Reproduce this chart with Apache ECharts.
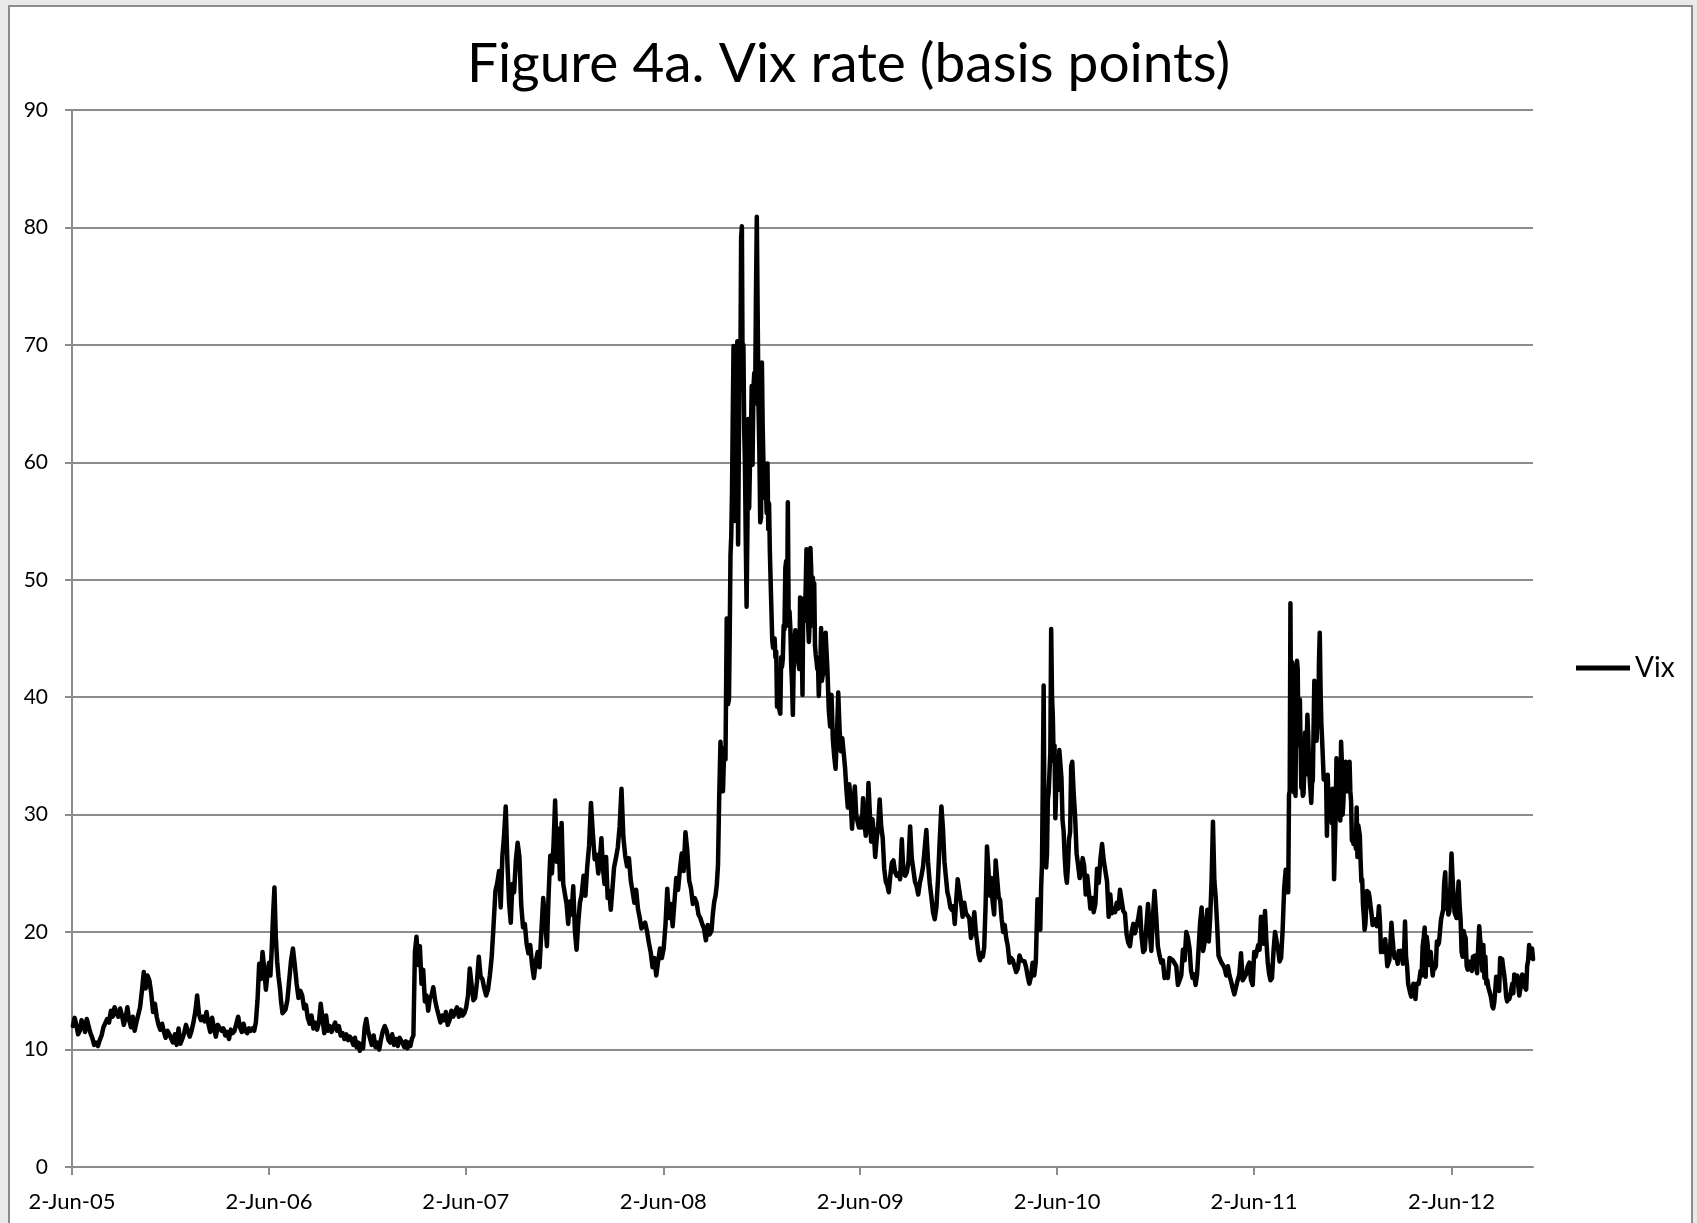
<!DOCTYPE html>
<html>
<head>
<meta charset="utf-8">
<script src="https://cdn.jsdelivr.net/npm/echarts@6/dist/echarts.min.js"></script>
<style>
  html, body { margin: 0; padding: 0; background: #e9e9e9; }
  #main { width: 1697px; height: 1223px; }
</style>
</head>
<body>
<div id="main"></div>
<script>
// Vix closes, one list per month (2005 starts at June, 2012 ends at October)
var vix2005 = [
  [12.0, 12.7, 12.1, 11.3, 11.6, 12.5, 12.2, 11.5, 12.6],
  [12.0, 11.4, 11.0, 10.4, 10.6, 10.3, 10.8, 11.2, 11.9],
  [12.0, 12.6, 12.3, 13.3, 12.8, 13.6, 13.1, 12.8, 13.5],
  [12.9, 12.1, 12.7, 13.6, 12.5, 11.9, 12.8, 11.6, 12.3],
  [12.2, 13.6, 15.0, 16.6, 15.2, 16.3, 15.9, 14.8, 13.2],
  [13.9, 12.8, 12.1, 11.7, 12.2, 11.5, 11.0, 11.6, 11.3],
  [11.2, 10.6, 11.3, 10.4, 11.8, 10.5, 10.9, 11.4, 12.1]
]
var vix2006 = [
  [12.0, 11.1, 11.6, 12.3, 13.2, 14.6, 13.0, 12.5, 12.8],
  [12.4, 13.2, 12.2, 11.5, 12.7, 11.8, 11.1, 12.1],
  [12.2, 11.6, 11.8, 11.2, 11.5, 10.9, 11.7, 11.4, 11.6],
  [11.7, 12.8, 11.9, 11.5, 12.2, 11.6, 11.4, 11.8, 11.6],
  [11.8, 11.6, 12.3, 14.2, 17.3, 16.0, 18.3, 16.9, 15.1, 16.5],
  [17.4, 16.3, 18.6, 21.5, 23.8, 19.6, 17.5, 16.2, 15.3, 14.0, 13.1, 13.0],
  [13.4, 14.2, 15.9, 17.6, 18.6, 17.2, 15.6, 14.4, 15.0],
  [14.6, 13.5, 13.8, 12.7, 12.2, 12.9, 11.8, 12.3, 11.7],
  [12.3, 13.9, 12.6, 11.4, 12.9, 11.6, 12.0, 11.5, 11.9],
  [12.3, 11.6, 12.0, 11.2, 11.4, 10.9, 11.3, 10.8, 11.1],
  [10.8, 10.4, 11.0, 10.2, 10.6, 9.9, 10.5, 10.1, 11.9, 12.6],
  [11.6, 11.0, 10.4, 11.2, 10.2, 10.6, 10.0, 10.9, 11.6]
]
var vix2007 = [
  [12.0, 11.6, 10.8, 10.6, 11.3, 10.4, 10.9, 10.3, 11.0],
  [11.1, 10.5, 10.2, 10.7, 10.1, 10.6, 10.3, 10.9, 11.2, 18.3],
  [19.6, 17.2, 18.8, 15.6, 16.8, 14.1, 14.6, 13.3, 14.4, 14.6],
  [15.3, 14.2, 13.5, 13.6, 12.3, 12.9, 12.5, 13.2, 12.1],
  [12.5, 13.3, 12.8, 12.9, 13.6, 12.8, 13.4, 12.9, 13.1],
  [13.6, 14.6, 16.9, 15.5, 14.2, 14.4, 15.8, 17.9, 16.2],
  [16.0, 15.2, 14.6, 15.1, 16.3, 17.9, 20.6, 23.5, 24.2],
  [25.2, 22.1, 26.5, 28.2, 30.7, 25.9, 22.5, 20.8, 24.1, 23.4],
  [26.1, 27.6, 26.4, 22.3, 20.4, 20.7, 19.0, 18.2, 18.9],
  [17.2, 16.1, 17.5, 18.3, 17.0, 20.0, 22.9, 21.0, 18.8],
  [23.3, 26.5, 25.0, 27.4, 31.2, 26.0, 28.8, 24.5, 29.3, 24.1],
  [24.0, 22.4, 20.7, 22.6, 21.5, 23.9, 20.1, 18.5, 20.8, 22.5]
]
var vix2008 = [
  [23.2, 24.8, 23.1, 25.6, 27.4, 31.0, 28.4, 26.2, 26.6],
  [25.0, 26.2, 28.0, 25.4, 24.1, 26.4, 22.9, 23.5, 21.9, 23.6],
  [25.5, 26.3, 27.2, 29.0, 32.2, 28.1, 26.5, 25.6, 26.3],
  [24.4, 23.5, 22.5, 23.6, 22.0, 21.2, 20.3, 20.6, 20.8],
  [20.1, 19.1, 18.3, 17.0, 17.8, 16.3, 17.5, 18.6, 17.8],
  [18.6, 20.6, 23.7, 21.2, 22.4, 20.5, 22.6, 24.6, 23.6],
  [25.3, 26.7, 25.2, 28.5, 26.9, 24.4, 23.7, 22.4, 22.9],
  [22.5, 21.5, 21.2, 20.7, 20.3, 19.3, 20.6, 19.8, 20.1],
  [21.7, 22.6, 23.1, 24.0, 25.7, 31.7, 36.2, 33.1, 32.0, 35.7, 34.7, 46.7, 39.4],
  [39.8, 45.3, 52.1, 53.7, 57.5, 63.9, 69.9, 55.0, 55.1, 69.3, 67.6, 70.3, 53.0, 53.1, 69.7, 67.8, 79.1, 80.1, 67.0, 70.0, 62.9, 59.9],
  [53.7, 47.7, 54.6, 63.7, 56.1, 60.0, 61.9, 66.5, 59.8, 66.3, 67.6, 65.0, 74.3, 80.9, 72.7, 64.7, 60.9, 54.9, 55.3],
  [68.5, 63.0, 59.9, 57.0, 58.9, 57.9, 55.7, 59.9, 54.3, 56.5, 52.4, 49.8, 47.3, 44.9, 44.2, 44.6, 45.0, 43.4, 43.9, 39.2, 40.0]
]
var vix2009 = [
  [39.2, 39.1, 38.6, 43.4, 42.6, 43.3, 46.1, 45.8, 51.0, 51.6, 46.1, 56.6, 46.4, 47.3, 45.9, 42.8, 41.2, 38.5, 42.6, 44.8],
  [45.7, 43.1, 43.6, 43.4, 42.8, 42.4, 48.5, 45.0, 44.7, 40.2, 48.4, 47.1, 46.5, 49.3, 52.6, 46.7, 46.4, 44.7, 46.4],
  [52.7, 50.9, 46.1, 50.2, 49.3, 49.7, 44.4, 43.6, 43.1, 42.4, 42.7, 40.1, 42.0, 42.4, 45.9, 41.4, 41.8, 43.5, 42.0, 42.9, 45.5, 44.1],
  [42.3, 38.9, 37.5, 40.2, 36.4, 35.0, 33.9, 36.6, 40.4, 37.2, 35.4, 36.5],
  [35.3, 34.0, 32.1, 30.6, 32.6, 31.2, 28.8, 30.8, 32.4, 30.0, 29.4, 28.9],
  [29.7, 28.9, 31.4, 29.4, 28.2, 28.8, 32.7, 30.2, 27.7, 29.6, 28.4, 26.4],
  [27.9, 29.0, 31.3, 29.0, 28.0, 25.4, 24.3, 24.0, 23.4, 24.8, 25.9],
  [26.1, 25.1, 24.8, 25.0, 24.5, 27.9, 25.0, 24.8, 25.1, 26.0],
  [29.0, 26.3, 25.3, 24.3, 23.9, 23.2, 24.2, 24.8, 25.6, 25.6],
  [28.7, 26.0, 24.2, 23.0, 21.7, 21.1, 22.1, 24.6, 27.8, 30.7],
  [28.8, 26.0, 24.7, 23.4, 22.9, 22.1, 21.9, 22.2, 20.7, 22.7, 24.5],
  [24.5, 22.6, 21.3, 22.5, 21.6, 21.5, 21.2, 19.5, 20.0, 21.7]
]
var vix2010 = [
  [20.0, 19.1, 18.1, 17.6, 18.2, 17.9, 18.7, 22.3, 27.3, 25.4, 23.1, 24.6],
  [22.6, 21.5, 26.1, 26.1, 23.0, 22.7, 21.1, 20.0, 20.6, 19.5],
  [18.8, 17.4, 17.8, 17.6, 17.6, 16.6, 16.9, 18.0, 17.6, 17.6],
  [17.5, 17.0, 16.2, 15.6, 16.2, 17.4, 16.3, 17.5, 22.8, 22.1],
  [20.2, 23.8, 25.7, 32.8, 41.0, 28.8, 28.9, 25.5, 26.7, 31.2, 31.9, 33.6, 35.3, 45.8, 40.1, 38.3, 34.6, 35.9, 29.7, 32.1],
  [34.5, 32.1, 35.5, 34.3, 33.1, 29.5, 28.6, 26.4, 24.9, 24.2, 25.6, 27.9, 28.5, 34.1, 34.5],
  [32.0, 29.9, 26.7, 25.7, 24.6, 25.1, 26.3, 25.6, 23.2, 24.8, 23.5],
  [22.0, 22.9, 21.7, 22.4, 25.4, 24.2, 26.2, 27.5, 26.1, 26.1],
  [24.3, 21.3, 23.2, 21.6, 22.0, 21.7, 22.5, 22.0, 23.6, 23.7],
  [21.8, 21.6, 19.8, 19.1, 18.8, 20.0, 20.7, 19.9, 19.9, 21.2],
  [22.1, 19.6, 18.3, 18.5, 20.6, 22.4, 20.2, 18.4, 21.3, 23.5],
  [21.4, 18.8, 18.0, 17.4, 17.6, 16.1, 16.5, 16.1, 17.8, 17.8]
]
var vix2011 = [
  [17.6, 17.6, 17.1, 15.5, 15.9, 16.3, 18.5, 17.6, 20.0, 19.5],
  [18.6, 16.7, 16.1, 16.4, 15.5, 16.4, 16.4, 20.8, 22.1, 18.4],
  [19.1, 20.7, 21.9, 19.2, 21.2, 24.3, 29.4, 24.4, 22.9, 20.6, 18.0, 17.7],
  [17.4, 17.2, 16.9, 16.3, 17.1, 16.3, 15.8, 15.2, 14.7, 14.8],
  [15.9, 16.4, 18.2, 15.9, 16.0, 16.4, 17.1, 17.4, 15.9, 15.5],
  [18.3, 17.9, 17.9, 18.9, 18.5, 21.3, 19.8, 19.0, 21.8, 19.3, 17.5, 16.5],
  [15.9, 16.1, 18.4, 20.0, 19.9, 18.5, 17.5, 17.8, 20.2, 23.7, 25.3],
  [23.4, 24.8, 23.4, 31.7, 32.0, 48.0, 35.1, 43.0, 39.0, 36.4, 31.9, 32.9, 31.6, 42.7, 43.1, 42.4, 36.3, 35.9, 39.8, 35.6, 32.3, 32.9, 31.6],
  [31.8, 33.9, 37.0, 33.4, 33.5, 38.5, 36.9, 34.6, 33.0, 32.0, 31.0, 32.7, 32.9, 37.3, 41.4, 39.5, 37.6, 36.3, 38.8, 37.5, 43.0],
  [45.5, 40.8, 37.8, 36.3, 36.2, 33.0, 32.9, 32.9, 32.9, 28.2, 33.4, 31.3, 31.5, 31.9, 31.3, 29.3, 32.2, 29.9, 24.5, 24.5, 30.0],
  [34.8, 32.7, 30.5, 30.2, 29.9, 29.5, 36.2, 34.5, 30.0, 31.1, 32.8, 33.5, 34.5, 32.0, 32.9, 32.0, 34.0, 34.5, 32.0, 31.1, 27.8],
  [28.0, 27.5, 28.3, 27.8, 27.1, 30.6, 26.4, 29.1, 28.7, 28.2, 26.0, 24.3, 24.5, 22.3, 21.4, 20.2, 20.7, 22.2, 23.5, 22.7, 23.4]
]
var vix2012 = [
  [23.0, 22.2, 21.5, 20.6, 21.1, 20.7, 21.1, 20.5, 20.9, 22.2, 20.9, 18.3, 18.7, 18.3, 18.5, 19.4],
  [18.4, 17.1, 17.1, 17.6, 19.1, 20.8, 19.5, 18.5, 17.8, 17.9, 17.8, 17.3, 18.4, 18.2, 18.4],
  [18.0, 17.3, 18.0, 20.9, 17.9, 17.1, 15.6, 15.6, 14.8, 14.5, 15.0, 15.6, 15.3, 14.3, 15.6, 15.5],
  [15.6, 16.1, 16.7, 16.3, 18.8, 19.5, 20.4, 16.2, 19.6, 18.9, 17.2, 17.1, 18.3, 17.2, 16.3, 17.2],
  [16.9, 17.1, 19.2, 18.9, 19.1, 20.1, 21.1, 21.5, 21.9, 24.2, 25.1, 22.0, 22.5, 21.5, 21.8, 24.1],
  [26.7, 24.7, 23.0, 21.7, 21.7, 21.2, 21.2, 24.3, 22.3, 21.1, 18.3, 17.9, 20.1, 19.7, 19.5, 17.1],
  [16.8, 17.5, 17.1, 17.1, 16.7, 17.9, 17.9, 18.0, 17.1, 16.5, 18.6, 20.5, 19.3, 18.5, 16.7, 18.9],
  [16.1, 17.9, 15.6, 15.9, 15.3, 15.2, 14.7, 14.3, 13.7, 13.5, 14.0, 15.0, 16.2, 16.3, 15.2, 15.0, 17.8],
  [17.1, 17.7, 17.0, 16.4, 15.6, 14.5, 14.1, 14.6, 14.3, 14.6, 15.1, 15.6, 14.8, 16.4, 15.7, 15.7],
  [16.3, 15.4, 14.6, 15.1, 15.6, 16.4, 16.2, 15.4, 15.5, 15.1, 17.1, 17.6, 18.9, 17.8, 17.7, 18.6, 17.7]
]

var tickDates = ['2005-06-02', '2006-06-02', '2007-06-02', '2008-06-02', '2009-06-02', '2010-06-02', '2011-06-02', '2012-06-02']
var tickLabels = ['2-Jun-05', '2-Jun-06', '2-Jun-07', '2-Jun-08', '2-Jun-09', '2-Jun-10', '2-Jun-11', '2-Jun-12']
var firstDay = Date.UTC(2005, 5, 2)
var lastDay = Date.UTC(2012, 9, 31)

// spread each month's closes across that month
var years = [[2005, 5, vix2005], [2006, 0, vix2006], [2007, 0, vix2007], [2008, 0, vix2008],
  [2009, 0, vix2009], [2010, 0, vix2010], [2011, 0, vix2011], [2012, 0, vix2012]]
var points = []
years.forEach(function (y) {
  y[2].forEach(function (vals, k) {
    var m = y[1] + k
    var start = Math.max(Date.UTC(y[0], m, 1), firstDay)
    var end = Math.min(Date.UTC(y[0], m + 1, 1), lastDay + 86400000)
    vals.forEach(function (v, i) {
      points.push([start + (i + 0.5) * (end - start) / vals.length, v])
    })
  })
})

var tickValues = tickDates.map(function (d) { return Date.parse(d + 'T00:00:00Z') })

var myChart = echarts.init(document.getElementById('main'))
var option = {
  animation: false,
  backgroundColor: 'transparent',
  textStyle: { fontFamily: 'Lato' },
  graphic: [{
    type: 'rect',
    z: -10,
    shape: { x: 9, y: 6, width: 1683, height: 1240 },
    style: { fill: '#fff', stroke: '#8c8c8c', lineWidth: 2 }
  }],
  title: {
    text: 'Figure 4a. Vix rate (basis points)',
    left: 'center',
    top: 32,
    textStyle: { fontFamily: 'Lato', fontSize: 55, fontWeight: 'normal', color: '#000' }
  },
  legend: {
    left: 1571,
    top: 649,
    icon: 'rect',
    itemWidth: 54,
    itemHeight: 5,
    itemGap: 6,
    textStyle: { fontFamily: 'Lato', fontSize: 28, color: '#000' },
    data: ['Vix']
  },
  grid: { left: 72, right: 164, top: 110, bottom: 56 },
  xAxis: {
    type: 'value',
    min: firstDay,
    max: lastDay,
    axisLine: { show: true, lineStyle: { color: '#8c8c8c', width: 2 } },
    axisTick: { show: true, length: 8, lineStyle: { color: '#8c8c8c', width: 2 }, customValues: tickValues },
    axisLabel: {
      customValues: tickValues,
      showMinLabel: true,
      showMaxLabel: true,
      margin: 24,
      fontSize: 22,
      color: '#000',
      fontFamily: 'Lato',
      formatter: function (val) {
        var i = tickValues.indexOf(val)
        return i >= 0 ? tickLabels[i] : ''
      }
    },
    splitLine: { show: false }
  },
  yAxis: {
    type: 'value',
    min: 0,
    max: 90,
    interval: 10,
    axisLine: { show: true, lineStyle: { color: '#8c8c8c', width: 2 } },
    axisTick: { show: true, length: 7, lineStyle: { color: '#8c8c8c', width: 2 } },
    axisLabel: { margin: 24, fontSize: 21, color: '#000', fontFamily: 'Lato' },
    splitLine: { show: true, lineStyle: { color: '#8c8c8c', width: 2 } }
  },
  series: [{
    name: 'Vix',
    type: 'line',
    data: points,
    showSymbol: false,
    symbol: 'none',
    color: '#000',
    lineStyle: { color: '#000', width: 4.5, join: 'round', cap: 'round' }
  }]
}
myChart.setOption(option)
</script>
</body>
</html>
